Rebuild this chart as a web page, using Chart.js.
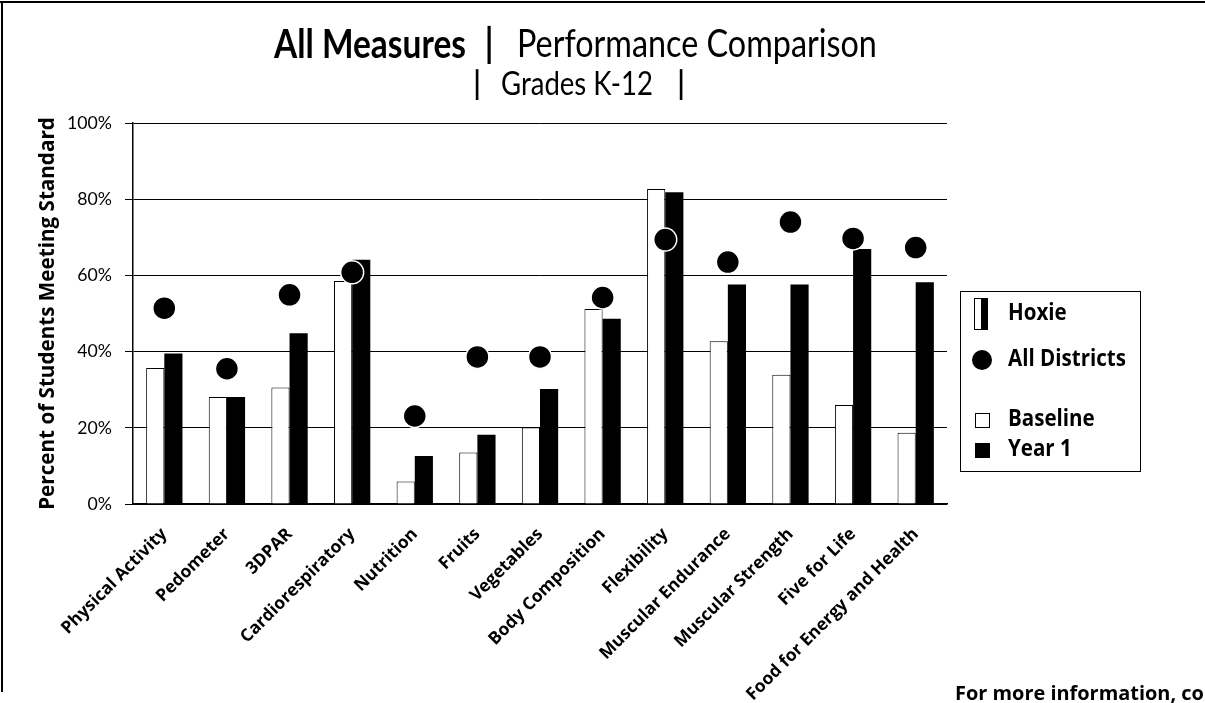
<!DOCTYPE html>
<html><head><meta charset="utf-8">
<script src="https://cdn.jsdelivr.net/npm/chart.js@4/dist/chart.umd.min.js"></script>
<style>html,body{margin:0;padding:0;background:#fff;} canvas{display:block}</style>
</head><body>
<canvas id="c" width="1205" height="703"></canvas>
<script>
const categories = ["Physical Activity","Pedometer","3DPAR","Cardiorespiratory","Nutrition","Fruits","Vegetables","Body Composition","Flexibility","Muscular Endurance","Muscular Strength","Five for Life","Food for Energy and Health"];
const baseline = [35.7, 28.1, 30.6, 58.5, 5.9, 13.5, 20.1, 51.2, 82.7, 42.7, 33.9, 26.0, 18.7];
const year1 = [39.5, 28.1, 44.8, 64.1, 12.6, 18.2, 30.2, 48.6, 81.8, 57.6, 57.6, 66.9, 58.2];
const allDistricts = [51.4, 35.5, 54.9, 60.8, 23.1, 38.6, 38.6, 54.2, 69.4, 63.5, 74.0, 69.7, 67.3];
const yTicks = [0, 20, 40, 60, 80, 100];
const yTitle = "Percent of Students Meeting Standard";
const legendItems = ["Hoxie", "All Districts", "Baseline", "Year 1"];
const footerText = "For more information, contact";

const mctx = document.createElement('canvas').getContext('2d');
function fit(text, weight, family, target) {
  mctx.font = weight + ' 100px ' + family;
  return 100 * target / mctx.measureText(text).width;
}
const TITLE_FONT = 'Lato';
const titleSize = fit('Performance Comparison', 'normal', TITLE_FONT, 360);
const titleBoldSize = fit('All Measures', 'bold', TITLE_FONT, 192);
const subSize = fit('Grades K-12', 'normal', TITLE_FONT, 152);
const tickSize = fit('100%', 'normal', TITLE_FONT, 45);
const yTitleSize = fit(yTitle, 'bold', '"Open Sans"', 393);
const xLabSize = fit('Food for Energy and Health', 'bold', '"Open Sans"', 235);
const legSize = fit('All Districts', 'bold', '"Open Sans"', 118);
const footSize = fit('For more information, co', 'bold', '"Open Sans"', 249);

function stretchText(c, text, x, y, sy) {
  c.save();
  c.translate(x, y);
  c.scale(1, sy);
  c.fillText(text, 0, 0);
  c.restore();
}

const decor = {
  id: 'decor',
  afterDraw(chart) {
    const c = chart.ctx;
    c.save();
    // outer frame
    c.strokeStyle = '#000'; c.lineWidth = 2;
    c.beginPath(); c.moveTo(0, 2); c.lineTo(1205, 2); c.moveTo(2, 1); c.lineTo(2, 692); c.stroke();
    // title
    const SY = 1.18;
    c.fillStyle = '#000'; c.textBaseline = 'middle'; c.textAlign = 'left';
    c.font = 'bold ' + titleBoldSize + 'px ' + TITLE_FONT;
    stretchText(c, 'All Measures', 274, 45, SY);
    c.textAlign = 'center';
    stretchText(c, '|', 489, 44, SY);
    c.textAlign = 'left';
    c.font = 'normal ' + titleSize + 'px ' + TITLE_FONT;
    stretchText(c, 'Performance Comparison', 517, 45, SY);
    c.font = 'bold ' + subSize + 'px ' + TITLE_FONT;
    c.textAlign = 'center';
    stretchText(c, '|', 477, 85, SY);
    stretchText(c, '|', 681, 85, SY);
    c.textAlign = 'left';
    c.font = 'normal ' + subSize + 'px ' + TITLE_FONT;
    stretchText(c, 'Grades K-12', 501, 85, SY);
    // legend
    c.lineWidth = 1;
    c.strokeRect(960.5, 291.5, 180, 180);
    c.fillStyle = '#fff'; c.fillRect(974, 298, 7, 32);
    c.fillStyle = '#000'; c.fillRect(981, 298, 7, 32);
    c.strokeRect(974.5, 298.5, 13, 31);
    c.beginPath(); c.arc(982, 360, 10, 0, Math.PI * 2); c.fill();
    c.strokeRect(975.5, 413.5, 14, 14);
    c.fillRect(975, 443, 15, 15);
    c.font = 'bold ' + legSize + 'px "Open Sans"';
    c.textBaseline = 'middle';
    const ys = [314, 360, 420, 450];
    legendItems.forEach((t, i) => stretchText(c, t, 1008, ys[i], 1.1));
    // footer
    c.font = 'bold ' + footSize + 'px "Open Sans"';
    c.textBaseline = 'alphabetic';
    c.fillText(footerText, 955, 700);
    c.restore();
  }
};

new Chart(document.getElementById('c'), {
  data: {
    labels: categories,
    datasets: [
      { type: 'line', label: 'All Districts', data: allDistricts, showLine: false,
        pointRadius: 11.5, pointHoverRadius: 11.5, pointBackgroundColor: '#000',
        pointBorderColor: '#fff', pointBorderWidth: 1.5, order: 0 },
      { type: 'bar', label: 'Baseline', data: baseline, backgroundColor: '#fff',
        borderColor: '#000', borderWidth: 1, order: 1, categoryPercentage: 0.58, barPercentage: 1 },
      { type: 'bar', label: 'Year 1', data: year1, backgroundColor: '#000',
        borderColor: '#000', borderWidth: 0, order: 1, categoryPercentage: 0.58, barPercentage: 1 }
    ]
  },
  options: {
    responsive: false, animation: false, devicePixelRatio: 1, events: [],
    layout: { padding: { left: 36, right: 258, top: 123, bottom: 0 } },
    plugins: { legend: { display: false }, tooltip: { enabled: false } },
    scales: {
      x: {
        grid: { display: false, drawTicks: false },
        border: { display: true, color: '#000', width: 1.5 },
        ticks: { minRotation: 45, maxRotation: 45, autoSkip: false, color: '#000', padding: 20,
          font: { family: 'Open Sans', weight: 'bold', size: xLabSize } },
        afterFit(s) { s.height = 199; }
      },
      y: {
        min: 0, max: 100,
        afterBuildTicks(s) { s.ticks = yTicks.map(v => ({ value: v })); },
        ticks: { callback: v => v + '%', color: '#000', padding: 13,
          font: { family: TITLE_FONT, size: tickSize } },
        grid: { color: '#000', lineWidth: 1, tickLength: 8, drawTicks: true },
        border: { display: true, color: '#000', width: 1.5 },
        title: { display: true, text: yTitle, color: '#000', padding: 0,
          font: { family: 'Open Sans', weight: 'bold', size: yTitleSize } },
        afterFit(s) { s.width = 97; }
      }
    }
  },
  plugins: [decor]
});
</script>
</body></html>
